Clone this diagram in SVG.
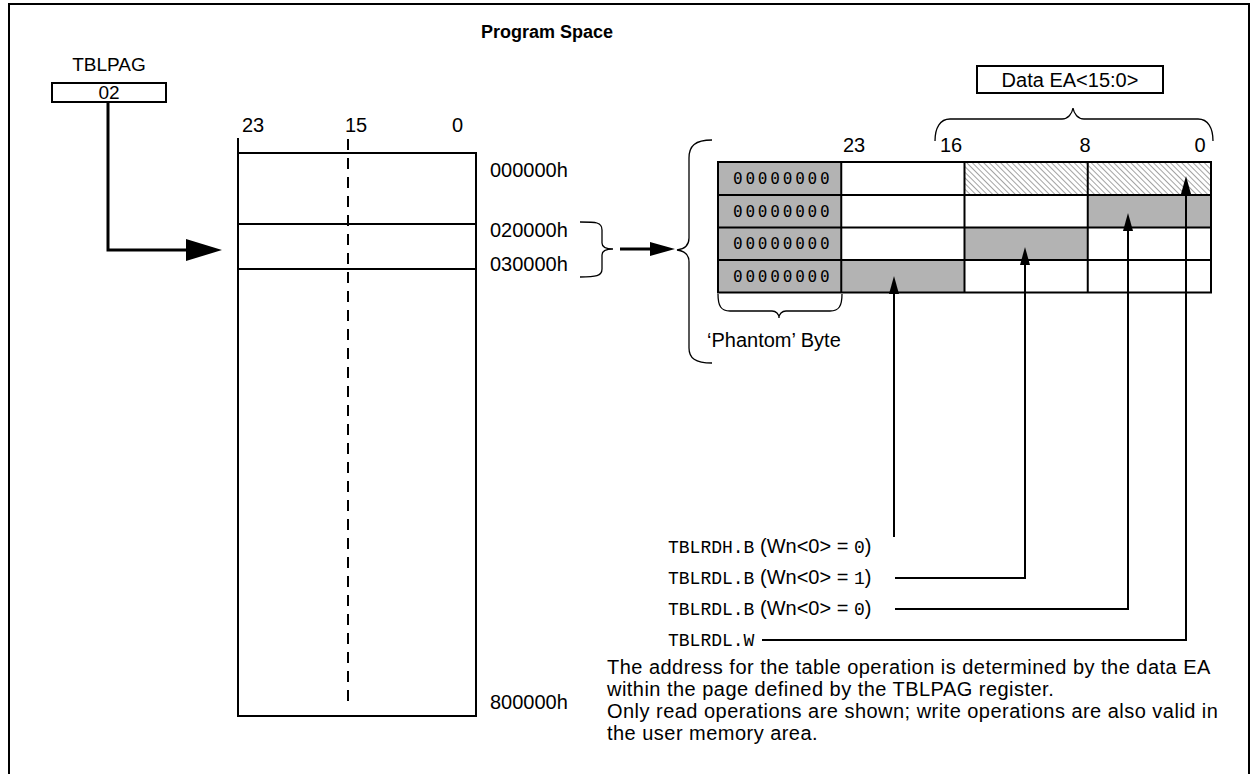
<svg xmlns="http://www.w3.org/2000/svg" width="1253" height="774" viewBox="0 0 1253 774">
<defs>
<style>
.t{font-family:"Liberation Sans",Arial,sans-serif;font-size:20px;fill:#000}
.s{font-family:"Liberation Sans",Arial,sans-serif;font-size:19px;fill:#000}
.b{font-family:"Liberation Sans",Arial,sans-serif;font-size:18px;font-weight:bold;fill:#000}
.p{font-family:"Liberation Sans",Arial,sans-serif;font-size:20px;letter-spacing:0.47px;fill:#000}
.m{font-family:"Liberation Mono","Courier New",monospace;font-size:18px;fill:#000}
.z{font-family:"DejaVu Sans Mono","Liberation Mono",monospace;font-size:16px;fill:#000;letter-spacing:2.8px}
.ln{stroke:#000;stroke-width:2;fill:none}
.thk{stroke:#000;stroke-width:3;fill:none}
.thin{stroke:#000;stroke-width:1.3;fill:none}
.g{fill:#b3b3b3}
.ah{fill:#000}
</style>
<pattern id="hatch" patternUnits="userSpaceOnUse" width="4" height="4" patternTransform="rotate(-45)">
<rect width="4" height="4" fill="#fff"/>
<line x1="0" y1="0" x2="0" y2="4" stroke="#333" stroke-width="0.9"/>
</pattern>
</defs>
<rect x="0" y="0" width="1253" height="774" fill="#fff"/>
<rect x="9" y="4" width="1240" height="780" fill="none" stroke="#000" stroke-width="2"/>
<text class="b" x="547" y="38" text-anchor="middle">Program Space</text>

<g id="tblpag">
<text class="s" x="109" y="71" text-anchor="middle">TBLPAG</text>
<rect x="52" y="83" width="114" height="19" fill="#fff" stroke="#000" stroke-width="2"/>
<text class="s" x="109" y="99" text-anchor="middle">02</text>
</g>

<g id="memory">
<rect x="238" y="153" width="238" height="563" fill="#fff" stroke="#000" stroke-width="2"/>
<line class="ln" x1="238" y1="138" x2="238" y2="153"/>
<line class="ln" x1="238" y1="224" x2="476" y2="224"/>
<line class="ln" x1="238" y1="269" x2="476" y2="269"/>
<line x1="348" y1="139" x2="348" y2="706" stroke="#000" stroke-width="2" stroke-dasharray="11,8"/>
<text class="t" x="242" y="132">23</text>
<text class="t" x="345" y="132">15</text>
<text class="t" x="452" y="132">0</text>
<text class="t" x="490" y="177">000000h</text>
<text class="t" x="490" y="237">020000h</text>
<text class="t" x="490" y="271">030000h</text>
<text class="t" x="490" y="709">800000h</text>
</g>

<g id="table">
<rect x="718" y="162" width="123.25" height="130.5" class="g"/>
<rect x="964.5" y="162" width="246.5" height="33" fill="url(#hatch)"/>
<rect x="1087.75" y="195" width="123.25" height="32.5" class="g"/>
<rect x="964.5" y="227.5" width="123.25" height="32.5" class="g"/>
<rect x="841.25" y="260" width="123.25" height="32.5" class="g"/>
<rect x="718" y="162" width="493" height="130.5" fill="none" stroke="#000" stroke-width="2"/>
<line class="ln" x1="718" y1="195" x2="1211" y2="195"/>
<line class="ln" x1="718" y1="227.5" x2="1211" y2="227.5"/>
<line class="ln" x1="718" y1="260" x2="1211" y2="260"/>
<line class="ln" x1="841.25" y1="162" x2="841.25" y2="292.5"/>
<line class="ln" x1="964.5" y1="162" x2="964.5" y2="292.5"/>
<line class="ln" x1="1087.75" y1="162" x2="1087.75" y2="292.5"/>
<text class="z" x="733" y="184">00000000</text>
<text class="z" x="733" y="217">00000000</text>
<text class="z" x="733" y="249">00000000</text>
<text class="z" x="733" y="282">00000000</text>
<text class="t" x="854" y="152" text-anchor="middle">23</text>
<text class="t" x="940" y="152">16</text>
<text class="t" x="1085" y="152" text-anchor="middle">8</text>
<text class="t" x="1200" y="152" text-anchor="middle">0</text>
</g>

<g id="dataea">
<rect x="977" y="66" width="186" height="27" fill="#fff" stroke="#000" stroke-width="2"/>
<text class="t" x="1070" y="87" text-anchor="middle">Data EA&lt;15:0&gt;</text>
<path class="thin" d="M935,141 C935,128 940,119 950,119 L1062,119 C1068,119 1072,114 1073,108 C1074,114 1078,119 1084,119 L1198,119 C1208,119 1213,128 1213,141"/>
</g>

<g id="phantom">
<path class="thin" d="M718,294 C718,306 721,311 730,311 L772,311 C776,311 779,314 779,318 C779,314 782,311 786,311 L830,311 C839,311 842,306 842,294"/>
<text class="t" x="707" y="347">‘Phantom’ Byte</text>
</g>

<g id="braces">
<path class="thin" d="M580,222 C596,222 602,222 602,230 L602,243 C602,247 606,249 613,249 C606,249 602,251 602,255 L602,269 C602,276 596,277 580,277"/>
<path class="thin" d="M712,140 C695,140 689,146 689,158 L689,238 C689,245 685,249 677,250 C685,251 689,255 689,262 L689,348 C689,358 695,363 712,363"/>
</g>

<g id="instructions">
<text x="668" y="553"><tspan class="m">TBLRDH.B</tspan><tspan class="t"> (Wn&lt;0&gt; = </tspan><tspan class="m">0</tspan><tspan class="t">)</tspan></text>
<text x="668" y="584"><tspan class="m">TBLRDL.B</tspan><tspan class="t"> (Wn&lt;0&gt; = </tspan><tspan class="m">1</tspan><tspan class="t">)</tspan></text>
<text x="668" y="615"><tspan class="m">TBLRDL.B</tspan><tspan class="t"> (Wn&lt;0&gt; = </tspan><tspan class="m">0</tspan><tspan class="t">)</tspan></text>
<text x="668" y="646"><tspan class="m">TBLRDL.W</tspan></text>
</g>

<g id="note">
<text class="p" x="607" y="674">The address for the table operation is determined by the data EA</text>
<text class="p" x="607" y="696">within the page defined by the TBLPAG register.</text>
<text class="p" x="607" y="718">Only read operations are shown; write operations are also valid in</text>
<text class="p" x="607" y="740">the user memory area.</text>
</g>

<g id="connectors">
<polyline class="thk" points="108,102 108,250 190,250"/>
<polygon class="ah" points="186,239 222,250 186,261"/>
<line class="thk" x1="620" y1="249" x2="652" y2="249"/>
<polygon class="ah" points="650,242 675,249 650,256"/>
<line class="ln" x1="894" y1="537" x2="894" y2="290"/>
<polygon class="ah" points="894,276 889,294 899,294"/>
<polyline class="ln" points="895,578 1025,578 1025,262"/>
<polygon class="ah" points="1025,247 1020,265 1030,265"/>
<polyline class="ln" points="895,609 1128,609 1128,228"/>
<polygon class="ah" points="1128,213 1123,231 1133,231"/>
<polyline class="ln" points="762,640 1186,640 1186,190"/>
<polygon class="ah" points="1186,176 1181,194 1191,194"/>
</g>
</svg>
